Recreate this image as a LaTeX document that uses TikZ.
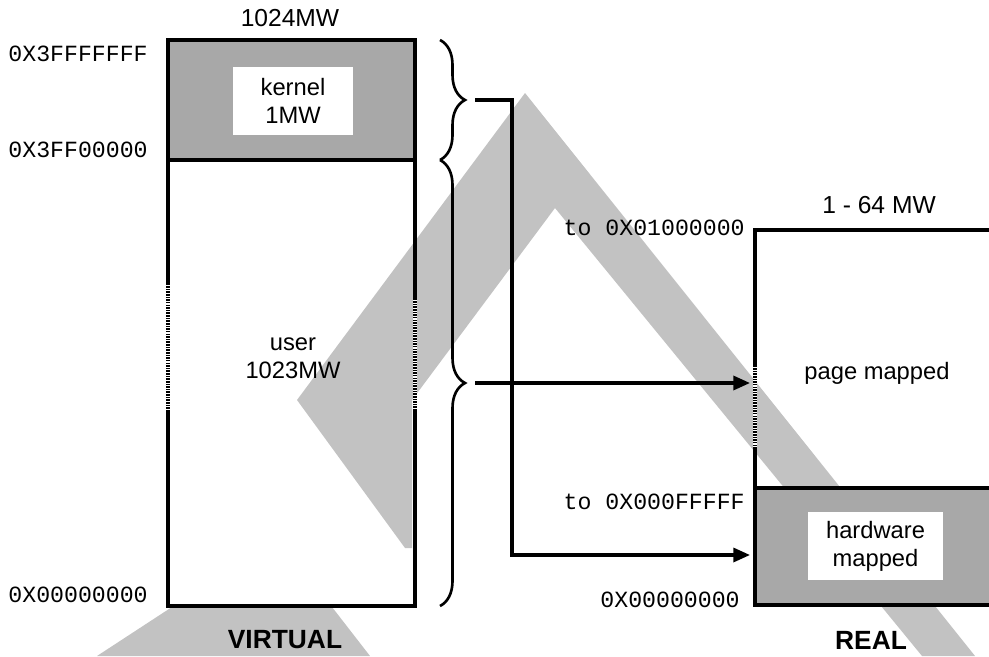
\documentclass[tikz,border=0pt]{standalone}
\usepackage{fontspec}
\setmainfont{Liberation Sans}
\setmonofont{Liberation Mono}
\usepackage{tikz}
\usetikzlibrary{arrows.meta, positioning, decorations.pathreplacing}
\definecolor{screengray}{gray}{0.76}
\definecolor{dotgray}{gray}{0.66}

\begin{document}
\begin{tikzpicture}[
  node distance = 0pt,
  region/.style  = {rectangle, draw=black, line width=2.6pt, minimum width=4.94cm,
                    inner sep=0pt},
  shaded/.style  = {region, fill=dotgray},
  tag/.style     = {rectangle, fill=white, minimum width=2.4cm, minimum height=1.36cm,
                    align=center, inner sep=0pt, font=\fontsize{13.5}{16}\selectfont},
  txt/.style     = {align=center, inner sep=0pt, font=\fontsize{13.5}{16}\selectfont},
  title/.style   = {inner sep=0pt, font=\fontsize{14}{16}\selectfont},
  side/.style    = {inner sep=0pt, font=\fontsize{15}{17}\selectfont\bfseries},
  addr/.style    = {anchor=east, inner sep=0pt, font=\ttfamily\fontsize{13.2}{15}\selectfont},
  memline/.style = {line width=2.6pt},
  torn/.style    = {draw=white, line width=2.8pt, dash pattern=on 0.6pt off 0.9pt},
  brc/.style     = {decorate, decoration={brace, amplitude=0.5cm}, line width=1.5pt},
  conn/.style    = {-{Triangle[length=9.5pt,width=8pt]}, line width=1.8pt},
  wmark/.style   = {fill=screengray, draw=none}
]
\useasboundingbox (0,0) rectangle (19.78,13.12);

% background screen
\fill[wmark] (10.50,11.26) -- (5.94,5.12) -- (8.10,2.16) -- (8.24,2.16) -- (8.24,5.12)
  -- (11.10,8.96) -- (18.44,0) -- (19.50,0) -- cycle;
\fill[wmark] (1.94,0) -- (3.44,0.98) -- (6.64,0.98) -- (7.40,0) -- cycle;

% virtual space
\node[shaded, minimum height=2.40cm] (kern) at (5.83,11.12) {};
\node[region, minimum height=8.92cm] (usr)  at (5.83,5.46) {};
\node[tag]   (kerntag) at (5.86,11.10) {kernel\\1MW};
\node[txt]   (usrtxt)  at (5.86,5.96)  {user\\1023MW};
\node[title] (vsize)   at (5.80,12.76) {1024MW};
\node[side]  (virt)    at (5.70,0.32)  {VIRTUAL};
\draw[torn] (3.36,7.42) -- (3.36,4.92);
\draw[torn] (8.30,7.12) -- (8.30,4.92);

\node[addr] (vtop) at (2.96,12.04) {0X3FFFFFFF};
\node[addr] (vkrn) at (2.96,10.12) {0X3FF00000};
\node[addr] (vbot) at (2.96,1.22)  {0X00000000};

% real space
\coordinate (rtop) at (15.10,8.52);
\coordinate (rdiv) at (15.10,3.36);
\coordinate (rbot) at (15.10,1.02);
\fill[dotgray] (rdiv) rectangle (19.90,1.02);
\draw[memline] (19.90,8.52) -- (rtop) -- (rbot) -- (19.90,1.02);
\draw[memline] (rdiv) -- (19.90,3.36);
\draw[torn] (15.10,5.78) -- (15.10,4.16);
\node[tag, minimum width=2.7cm] (hwtag) at (17.51,2.20) {hardware\\mapped};
\node[txt]   (pgtxt) at (17.54,5.66) {page mapped};
\node[title] (rsize) at (17.58,9.02) {1 - 64 MW};
\node[side]  (real)  at (17.42,0.32) {REAL};

\node[addr] (rhi)  at (14.90,8.56) {to 0X01000000};
\node[addr] (rmid) at (14.90,3.08) {to 0X000FFFFF};
\node[addr] (rlo)  at (14.80,1.12) {0X00000000};

% braces and mapping
\coordinate (b0) at (8.80,12.32);
\coordinate (b1) at (8.80,9.92);
\coordinate (b2) at (8.80,1.00);
\draw[brc] (b0) -- (b1);
\draw[brc] (b1) -- (b2);

\coordinate (ktip)  at (9.50,11.12);
\coordinate (utip)  at (9.50,5.46);
\coordinate (kbend) at (10.24,2.02);
\coordinate (hwin)  at (15.00,2.02);
\coordinate (pgin)  at (15.00,5.46);
\draw[conn] (ktip) -| (kbend) -- (hwin);
\draw[conn] (utip) -- (pgin);
\end{tikzpicture}
\end{document}
